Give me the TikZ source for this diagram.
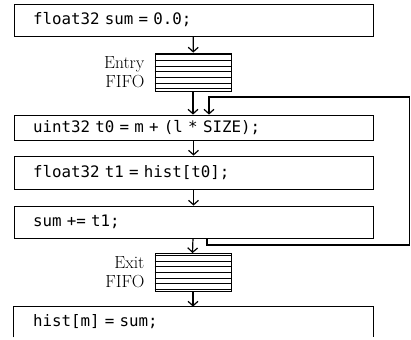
\documentclass[tikz,border=0pt]{standalone}
\usepackage{fontspec}
\setmonofont{DejaVu Sans Mono}
\usetikzlibrary{positioning,arrows.meta}

\newcommand{\codefont}{\fontsize{15.8}{19}\selectfont\ttfamily\spaceskip=3.7pt\relax}

\tikzset{
  stmt/.style={draw, line width=0.8pt, text width=321pt, inner xsep=19pt, inner ysep=0pt,
    align=left, font=\codefont},
  fifo/.style={draw, line width=0.8pt, minimum width=76pt, minimum height=38pt, inner sep=0pt},
  fifolabel/.style={align=right, inner sep=0pt, font=\fontsize{17.5}{19}\selectfont},
  flow/.style={-{Straight Barb[length=4.5pt,width=10pt,line width=1.2pt]}, line width=1.2pt},
}

\begin{document}
\begin{tikzpicture}[x=1pt, y=-1pt]
    \useasboundingbox (0,0) rectangle (411,339);
    \node[stmt, minimum height=32pt] (init) at (193.5,20) {float32 sum = 0.0;};
    \node[fifo] (entry) at (193,72) {};
    \node[fifolabel, left=10pt of entry] {Entry\\FIFO};
    \node[stmt, minimum height=25pt] (addr) at (193.5,127.5) {uint32 t0 = m + (l * SIZE);};
    \node[stmt, minimum height=33pt] (load) at (193.5,172.5) {float32 t1 = hist[t0];};
    \node[stmt, minimum height=32pt] (acc) at (193.5,222) {sum += t1;};
    \node[fifo] (exit) at (193,272.5) {};
    \node[fifolabel, left=10pt of exit] {Exit\\FIFO};
    \node[stmt, draw=none, minimum height=30pt] (store) at (193.5,322) {hist[m] = sum;};
% last box runs off the bottom edge
\draw[line width=0.8pt] (store.south west) -- (store.north west) -- (store.north east) -- (store.south east);
% stripes of the two fifos
\foreach \f in {entry, exit}
  \foreach \dy in {2,7.67,13.33,19,24.67,30.33,36}
    \draw[line width=0.5pt] ([yshift=-\dy pt]\f.north west) -- ([yshift=-\dy pt]\f.north east);
\draw [flow] (init) to (entry);
\draw [flow] (entry) to ([xshift=-0.5pt]addr.north);
\draw [flow] (addr) to (load);
\draw [flow] (load) to (acc);
\draw [flow] (acc) to ([xshift=-0.5pt]exit.north);
\draw [flow] (exit) to ([xshift=-0.5pt]store.north);
% loop back edge
\coordinate (loopbot) at (409.5,245);
\coordinate (looptop) at (409.5,97);
\draw [flow] ([xshift=13.5pt]acc.south) |- (loopbot) -- (looptop) -| ([xshift=15.5pt]addr.north);
  \end{tikzpicture}
\end{document}
